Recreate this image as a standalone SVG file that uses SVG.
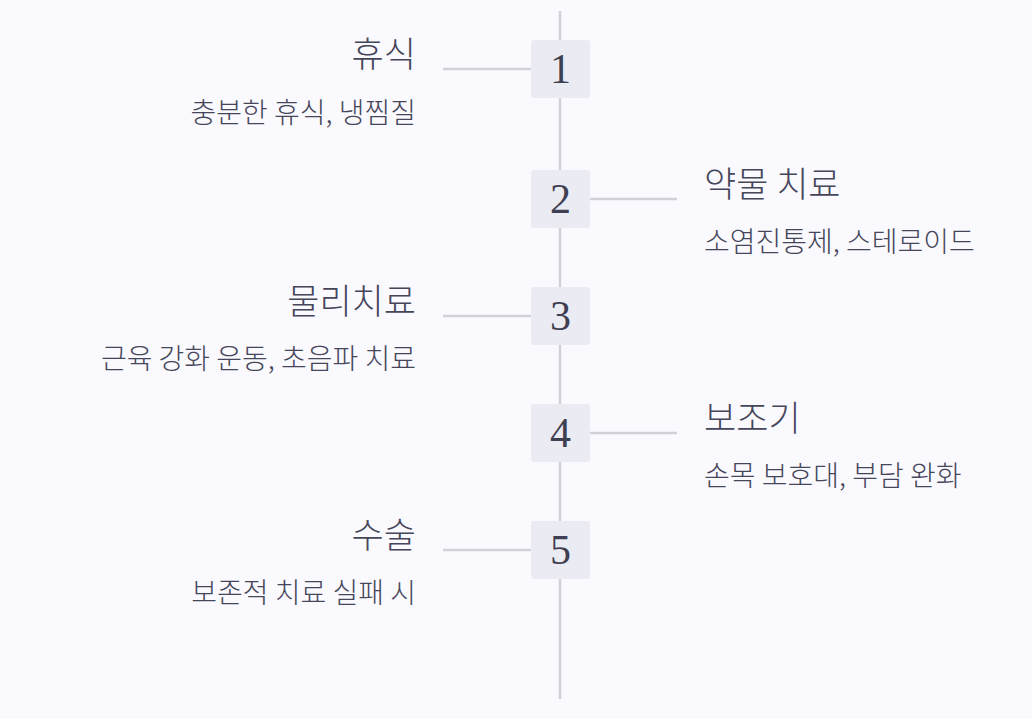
<svg xmlns="http://www.w3.org/2000/svg" width="1032" height="719" viewBox="0 0 1032 719">
<style>
.bg{fill:#f9f9fe}
.ln{stroke:#d1d1d9;stroke-width:2.5;fill:none}
.box{fill:#ebebf3}
.num{font-family:"Liberation Serif","DejaVu Serif",serif;font-size:42px;fill:#3f3f52;text-anchor:middle}
.t{font-family:"Noto Sans CJK KR","Noto Sans",sans-serif;font-size:35px;font-weight:300;fill:#46465a}
.s{font-family:"Noto Sans CJK KR","Noto Sans",sans-serif;font-size:28px;font-weight:300;fill:#46465a}
.l{text-anchor:end}
</style>
<rect class="bg" x="0" y="0" width="1032" height="719"/>
<g id="connectors">
<line class="ln" x1="560" y1="11" x2="560" y2="699"/>
<line class="ln" x1="443" y1="69" x2="531" y2="69"/>
<line class="ln" x1="590" y1="199" x2="677" y2="199"/>
<line class="ln" x1="443" y1="316" x2="531" y2="316"/>
<line class="ln" x1="590" y1="433" x2="677" y2="433"/>
<line class="ln" x1="443" y1="550" x2="531" y2="550"/>
</g>
<g id="node1">
<rect class="box" x="531" y="40" width="59" height="58" rx="3"/>
<text class="num" x="560.5" y="83">1</text>
<text class="t l" x="416" y="67">휴식</text>
<text class="s l" x="416" y="123">충분한 휴식, 냉찜질</text>
</g>
<g id="node2">
<rect class="box" x="531" y="170" width="59" height="58" rx="3"/>
<text class="num" x="560.5" y="213">2</text>
<text class="t" x="704" y="197">약물 치료</text>
<text class="s" x="704" y="252">소염진통제, 스테로이드</text>
</g>
<g id="node3">
<rect class="box" x="531" y="287" width="59" height="58" rx="3"/>
<text class="num" x="560.5" y="330">3</text>
<text class="t l" x="416" y="314">물리치료</text>
<text class="s l" x="416" y="369">근육 강화 운동, 초음파 치료</text>
</g>
<g id="node4">
<rect class="box" x="531" y="404" width="59" height="58" rx="3"/>
<text class="num" x="560.5" y="447">4</text>
<text class="t" x="704" y="431">보조기</text>
<text class="s" x="704" y="486">손목 보호대, 부담 완화</text>
</g>
<g id="node5">
<rect class="box" x="531" y="521" width="59" height="58" rx="3"/>
<text class="num" x="560.5" y="564">5</text>
<text class="t l" x="416" y="548">수술</text>
<text class="s l" x="416" y="603">보존적 치료 실패 시</text>
</g>
</svg>
